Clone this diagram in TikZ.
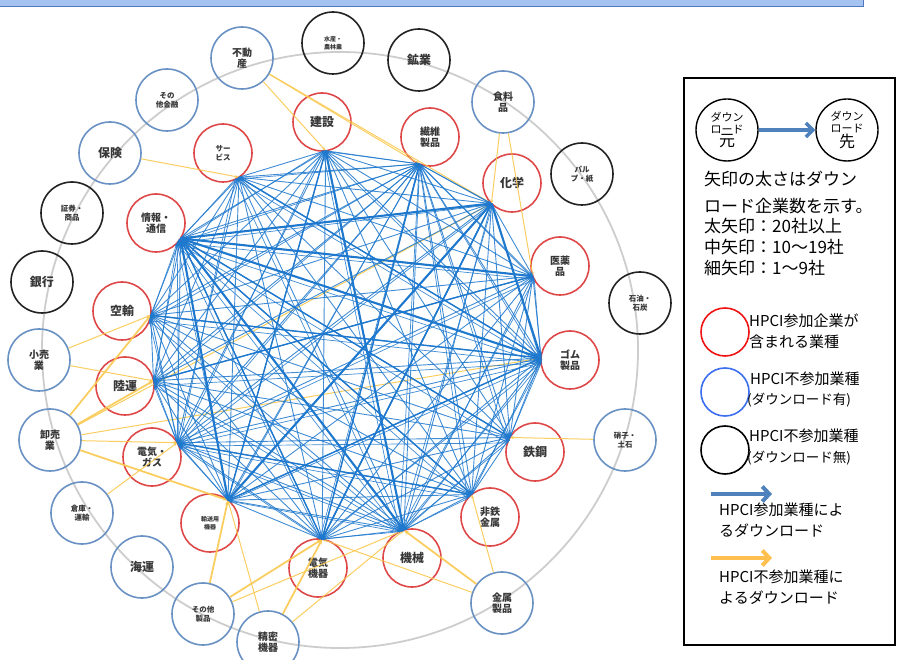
\documentclass[tikz,border=0pt]{standalone}
\usepackage{fontspec}
\setmainfont{Noto Sans CJK JP}
\usetikzlibrary{calc,arrows.meta}
\definecolor{rc}{RGB}{222,72,72}
\definecolor{bc}{RGB}{105,145,195}
\definecolor{kc}{RGB}{35,35,35}
\definecolor{nb}{RGB}{30,120,205}
\definecolor{yl}{RGB}{250,200,80}
\definecolor{ringc}{RGB}{205,205,205}
\definecolor{tx}{RGB}{55,55,55}
\definecolor{barfill}{RGB}{165,195,240}
\definecolor{barline}{RGB}{80,120,190}
\definecolor{legblue}{RGB}{79,129,189}
\definecolor{legyel}{RGB}{255,192,80}
\definecolor{legred}{RGB}{240,20,20}
\definecolor{legbc}{RGB}{60,110,240}
\begin{document}
\begin{tikzpicture}[x=1pt,y=-1pt,
  nd/.style={circle,line width=1.6pt,inner sep=0pt,align=center,text=tx,font=\bfseries\fontsize{10}{11}\selectfont},
  rn/.style={nd,draw=rc,minimum size=58pt},
  bn/.style={nd,draw=bc,minimum size=62pt},
  kn/.style={nd,draw=kc,minimum size=62pt},
  fbig/.style={font=\bfseries\fontsize{12}{13}\selectfont},
  fsml/.style={font=\bfseries\fontsize{7.5}{9}\selectfont},
  ftiny/.style={font=\bfseries\fontsize{6}{7.5}\selectfont},
  be/.style={draw=nb,line width=0.9pt,opacity=0.85,-{Stealth[length=4pt,width=3pt]}},
  bm/.style={draw=nb,line width=1.4pt,-{Stealth[length=5pt,width=4pt]}},
  bt/.style={draw=nb,line width=2.1pt,-{Stealth[length=6pt,width=5pt]}},
  ye/.style={draw=yl,line width=1pt,opacity=0.9,-{Stealth[length=4pt,width=3pt]}},
  yt/.style={draw=yl,line width=1.8pt,opacity=0.9,-{Stealth[length=5pt,width=4pt]}},
  lt/.style={anchor=west,inner sep=0pt,align=left,font=\fontsize{17}{20}\selectfont},
  lm/.style={anchor=west,inner sep=0pt,align=left,font=\fontsize{15}{21}\selectfont},
  lcirc/.style={circle,line width=1.6pt,minimum size=48pt,inner sep=0pt}
]
\useasboundingbox (0,0) rectangle (898,660);
% top bar
\draw[barline,fill=barfill,line width=1pt] (-2,-2) rectangle (863,7);
% outer ring
\coordinate (RC) at (340,350);
\draw[ringc,line width=1.8pt] (RC) circle[radius=298pt];
\coordinate (C) at (350,345);
\coordinate (C2) at (330,385);

% red nodes
\node[rn,fsml] (sv) at (223,153) {サー\\ビス};
\node[rn,fbig] (ks) at (322,122) {建設};
\node[rn] (sn) at (430,137) {繊維\\製品};
\node[rn,fbig] (kg) at (512,183) {化学};
\node[rn] (iy) at (560,266) {医薬\\品};
\node[rn] (gm) at (570,360) {ゴム\\製品};
\node[rn,fbig] (tk) at (535,452) {鉄鋼};
\node[rn] (ht) at (490,517) {非鉄\\金属};
\node[rn,fbig] (ki) at (412,558) {機械};
\node[rn] (dk) at (318,568) {電気\\機器};
\node[rn,ftiny] (yu) at (210,523) {輸送用\\機器};
\node[rn] (dg) at (152,457) {電気・\\ガス};
\node[rn,fbig] (ri) at (125,386) {陸運};
\node[rn,fbig] (ku) at (122,311) {空輸};
\node[rn] (jt) at (156,223) {情報・\\通信};

% outer nodes
\node[bn] (fd) at (242,58) {不動\\産};
\node[kn,ftiny] (sr) at (333,43) {水産・\\農林業};
\node[kn,fbig] (kk) at (419,60) {鉱業};
\node[bn] (sy) at (503,102) {食料\\品};
\node[kn,fsml] (pp) at (582,174) {パル\\プ・紙};
\node[kn,fsml] (se) at (640,303) {石油・\\石炭};
\node[bn,fsml] (gs) at (625,440) {硝子・\\土石};
\node[bn] (km) at (502,603) {金属\\製品};
\node[bn] (sm) at (268,642) {精密\\機器};
\node[bn,fsml] (ss) at (203,614) {その他\\製品};
\node[bn,fbig] (ka) at (142,567) {海運};
\node[bn,fsml] (su) at (82,513) {倉庫・\\運輸};
\node[bn] (os) at (50,440) {卸売\\業};
\node[bn] (ko) at (39,360) {小売\\業};
\node[kn,fbig] (gk) at (42,282) {銀行};
\node[kn,fsml] (sk) at (72,213) {証券・\\商品};
\node[bn,fbig] (hk) at (110,153) {保険};
\node[bn,fsml] (sf) at (167,100) {その\\他金融};

% hubs
\foreach \n in {sv,ks,sn,kg,iy,gm,tk,ht,ki,dk,yu,dg,ri,ku,jt}{
  \coordinate (h-\n) at ($(\n)!29pt!(C)$);
  \coordinate (g-\n) at ($(\n)!29pt!(C2)$);
}

% yellow connectors
\draw[ye] (fd) -- (h-ks);
\draw[ye] (fd) -- (h-sn);
\draw[ye] (fd) -- (h-kg);
\draw[ye] (hk) -- (h-sv);
\draw[ye] (sy) -- (h-kg);
\draw[ye] (sy) -- (h-iy);
\draw[yt] (os) -- (h-ku);
\draw[yt] (os) -- (h-ri);
\draw[ye] (os) -- (h-dg);
\draw[yt] (os) -- (h-yu);
\draw[ye] (os) -- (h-kg);
\draw[ye] (os) -- (h-gm);
\draw[ye] (ko) -- (h-ri);
\draw[ye] (ko) -- (h-ku);
\draw[yt] (ss) -- (h-yu);
\draw[yt] (ss) -- (h-dk);
\draw[ye] (ss) -- (h-ki);
\draw[ye] (sm) -- (h-yu);
\draw[yt] (sm) -- (h-dk);
\draw[ye] (sm) -- (h-ki);
\draw[yt] (km) -- (h-ki);
\draw[ye] (km) -- (h-dk);
\draw[ye] (km) -- (h-ht);
\draw[ye] (gs) -- (h-tk);
\draw[ye] (su) -- (h-dg);

% blue network: every pair
\foreach \a [count=\i] in {sv,ks,sn,kg,iy,gm,tk,ht,ki,dk,yu,dg,ri,ku,jt}{
  \foreach \b [count=\j] in {sv,ks,sn,kg,iy,gm,tk,ht,ki,dk,yu,dg,ri,ku,jt}{
    \ifnum\j>\i
      \ifodd\numexpr\i+\j\relax
        \draw[be] (h-\a) -- (h-\b);
      \else
        \draw[be] (h-\b) -- (h-\a);
      \fi
      \ifnum\numexpr\i*\j-3*((\i*\j)/3)\relax=0
        \draw[be,line width=0.7pt] (g-\a) -- (g-\b);
      \fi
    \fi
  }
}
% heavier links
\draw[bt] (h-jt) -- (h-kg);
\draw[bt] (h-jt) -- (h-iy);
\draw[bt] (h-jt) -- (h-gm);
\draw[bt] (h-jt) -- (h-ki);
\draw[bt] (h-kg) -- (h-gm);
\draw[bt] (h-jt) -- (h-yu);
\draw[bt] (h-ks) -- (h-ki);
\draw[bt] (h-kg) -- (h-yu);
\draw[bm] (h-jt) -- (h-dk);
\draw[bm] (h-jt) -- (h-tk);
\draw[bm] (h-jt) -- (h-ht);
\draw[bm] (h-sv) -- (h-gm);
\draw[bm] (h-sn) -- (h-dk);
\draw[bm] (h-ku) -- (h-gm);
\draw[bm] (h-dg) -- (h-ht);
\draw[bm] (h-yu) -- (h-gm);
\draw[bm] (h-ri) -- (h-iy);
\draw[bm] (h-kg) -- (h-dk);
\draw[bm] (h-ks) -- (h-yu);
\draw[bm] (h-dk) -- (h-kg);

% legend
\draw[line width=1.2pt] (684,78) rectangle (895,645);
\node[circle,draw,line width=1.4pt,minimum size=62pt,inner sep=0pt,align=center,font=\fontsize{11}{12}\selectfont] (lg1) at (727,130) {ダウン\\ロード\\{\fontsize{16}{16}\selectfont 元}};
\node[circle,draw,line width=1.4pt,minimum size=62pt,inner sep=0pt,align=center,font=\fontsize{11}{12}\selectfont] (lg2) at (847,130) {ダウン\\ロード\\{\fontsize{16}{16}\selectfont 先}};
\draw[legblue,line width=3.5pt,-{Straight Barb[length=7pt,width=14pt]}] (lg1) -- (lg2);
\node[lt] (t1) at (704,179) {矢印の太さはダウン};
\node[lt] (t2) at (704,206) {ロード企業数を示す。};
\node[lt] (t3) at (704,226) {太矢印：20社以上};
\node[lt] (t4) at (704,247) {中矢印：10〜19社};
\node[lt] (t5) at (704,268) {細矢印：1〜9社};

\node[lcirc,draw=legred] (lr) at (725,332) {};
\node[lm] (lrt) at (749,331) {HPCI参加企業が\\含まれる業種};
\node[lcirc,draw=legbc] (lb) at (725,392) {};
\node[lm] (lbt) at (750,379) {HPCI不参加業種};
\node[anchor=west,inner sep=0pt,font=\fontsize{13.5}{15}\selectfont] (lbt2) at (747,400) {(ダウンロード有)};
\node[lcirc,draw=black] (lk) at (725,450) {};
\node[lm] (lkt) at (749,436) {HPCI不参加業種};
\node[anchor=west,inner sep=0pt,font=\fontsize{13.5}{15}\selectfont] (lkt2) at (747,458) {(ダウンロード無)};

\coordinate (la1) at (711,494);
\coordinate (la2) at (772,494);
\draw[legblue,line width=4pt,-{Straight Barb[length=7pt,width=15pt]}] (la1) -- (la2);
\node[lm] (lat) at (719,520) {HPCI参加業種によ\\るダウンロード};
\coordinate (lb1) at (711,558);
\coordinate (lb2) at (772,558);
\draw[legyel,line width=4pt,-{Straight Barb[length=7pt,width=15pt]}] (lb1) -- (lb2);
\node[lm] (lbtt) at (719,587) {HPCI不参加業種に\\よるダウンロード};
\end{tikzpicture}
\end{document}
